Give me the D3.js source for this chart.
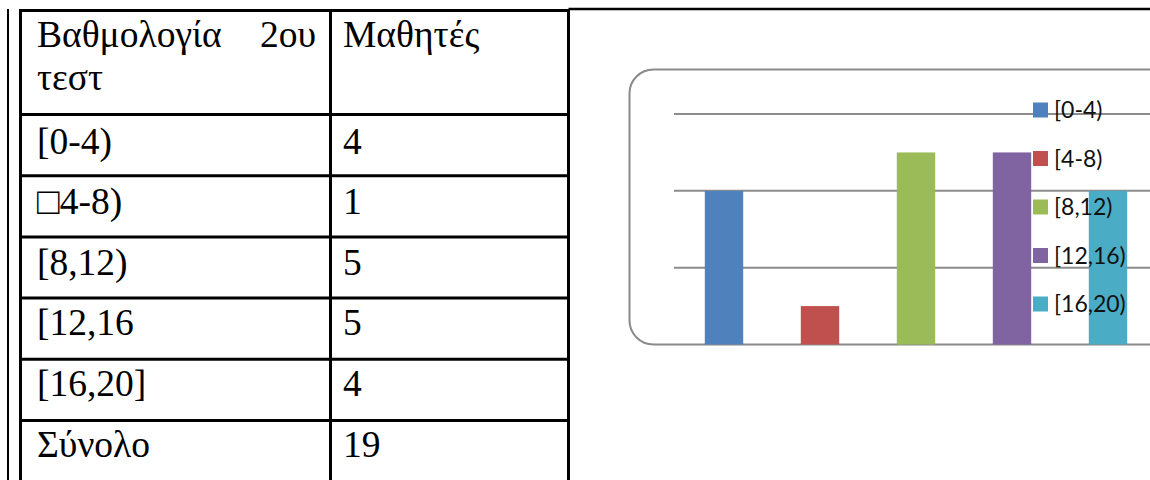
<!DOCTYPE html>
<html>
<head>
<meta charset="utf-8">
<script src="https://cdn.jsdelivr.net/npm/d3@7"></script>
<style>
  body { margin: 0; background: #fff; }
</style>
</head>
<body>
<svg id="page"></svg>
<script>
// table data
var headerLeft = ["Βαθμολογία", "2ου", "τεστ"];
var headerRight = "Μαθητές";
var rowLabels = ["[0-4)", "\u25A14-8)", "[8,12)", "[12,16", "[16,20]", "Σύνολο"];
var rowValues = ["4", "1", "5", "5", "4", "19"];

// chart data
var categories = ["[0-4)", "[4-8)", "[8,12)", "[12,16)", "[16,20)"];
var students = [4, 1, 5, 5, 4];
var yTicks = [0, 2, 4, 6];
var colors = ["#4F81BD", "#C0504D", "#9BBB59", "#8064A2", "#4BACC6"];

var svgWidth = 1150, svgHeight = 480;
var svg = d3.select("#page")
    .attr("width", svgWidth)
    .attr("height", svgHeight);

// ---- table ----
var tLeft = 20.5, tRight = 568.5, tMid = 330.5, tTop = 10.5;
var headerBottom = 114.5, rowH = 61.2;

var table = svg.append("g").attr("font-family", "'Liberation Serif', 'Times New Roman', serif")
    .attr("font-size", 37.5);

// thin outer line on the far left
table.append("line")
    .attr("x1", 8).attr("x2", 8)
    .attr("y1", 9).attr("y2", svgHeight)
    .attr("stroke", "#000").attr("stroke-width", 2);

// top rule running to the page edge
table.append("line")
    .attr("x1", tRight).attr("x2", svgWidth)
    .attr("y1", 9).attr("y2", 9)
    .attr("stroke", "#000").attr("stroke-width", 2.5);

var rowTops = rowLabels.map(function (d, i) { return headerBottom + i * rowH; });

table.selectAll("line.row")
    .data([tTop].concat(rowTops))
    .enter()
    .append("line")
    .attr("class", "row")
    .attr("x1", tLeft - 1.5).attr("x2", tRight + 1.5)
    .attr("y1", function (d) { return d; })
    .attr("y2", function (d) { return d; })
    .attr("stroke", "#000").attr("stroke-width", 3);

table.selectAll("line.col")
    .data([tLeft, tMid, tRight])
    .enter()
    .append("line")
    .attr("class", "col")
    .attr("x1", function (d) { return d; })
    .attr("x2", function (d) { return d; })
    .attr("y1", tTop - 1.5).attr("y2", svgHeight)
    .attr("stroke", "#000").attr("stroke-width", 3);

// header cells
table.append("text").attr("x", 37).attr("y", 47).text(headerLeft[0]);
table.append("text").attr("x", 316).attr("y", 47).attr("text-anchor", "end").text(headerLeft[1]);
table.append("text").attr("x", 37).attr("y", 90).text(headerLeft[2]);
table.append("text").attr("x", 343).attr("y", 47).text(headerRight);

table.selectAll("text.label")
    .data(rowLabels)
    .enter()
    .append("text")
    .attr("class", "label")
    .attr("x", 37)
    .attr("y", function (d, i) { return rowTops[i] + 39 - i * 0.6; })
    .text(function (d) { return d; });

table.selectAll("text.value")
    .data(rowValues)
    .enter()
    .append("text")
    .attr("class", "value")
    .attr("x", 343)
    .attr("y", function (d, i) { return rowTops[i] + 39 - i * 0.6; })
    .text(function (d) { return d; });

// ---- chart ----
var chart = svg.append("g");

chart.append("rect")
    .attr("x", 629.5).attr("y", 69.5)
    .attr("width", 570).attr("height", 275)
    .attr("rx", 24).attr("ry", 24)
    .attr("fill", "#fff")
    .attr("stroke", "#8a8a8a").attr("stroke-width", 2);

var x = d3.scaleBand()
    .domain(categories)
    .range([676, 1156])
    .paddingInner(0.6)
    .paddingOuter(0.3);

var y = d3.scaleLinear()
    .domain([0, 6])
    .range([344.5, 114]);

chart.selectAll("line.grid")
    .data(yTicks.slice(1))
    .enter()
    .append("line")
    .attr("class", "grid")
    .attr("x1", 674).attr("x2", svgWidth)
    .attr("y1", function (d) { return y(d); })
    .attr("y2", function (d) { return y(d); })
    .attr("stroke", "#8c8c8c").attr("stroke-width", 2);

chart.selectAll("rect.bar")
    .data(students)
    .enter()
    .append("rect")
    .attr("class", "bar")
    .attr("x", function (d, i) { return x(categories[i]); })
    .attr("y", function (d) { return y(d); })
    .attr("width", x.bandwidth())
    .attr("height", function (d) { return y(0) - y(d); })
    .attr("fill", function (d, i) { return colors[i]; });

var legend = chart.selectAll("g.legend")
    .data(categories)
    .enter()
    .append("g")
    .attr("class", "legend")
    .attr("transform", function (d, i) { return "translate(1033," + (110 + i * 48.5) + ")"; });

legend.append("rect")
    .attr("x", 0).attr("y", -7.5)
    .attr("width", 15).attr("height", 15)
    .attr("fill", function (d, i) { return colors[i]; });

legend.append("text")
    .attr("x", 21)
    .attr("dy", "0.36em")
    .attr("font-family", "Lato, 'Open Sans', sans-serif")
    .attr("font-size", 23)
    .attr("fill", "#111")
    .text(function (d) { return d; });
</script>
</body>
</html>
